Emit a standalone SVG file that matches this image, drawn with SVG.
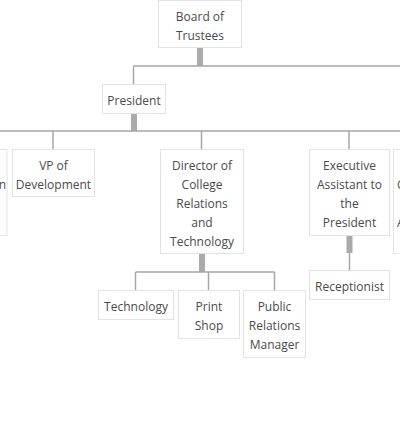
<svg xmlns="http://www.w3.org/2000/svg" width="400" height="442" viewBox="0 0 400 442">
<style>
.box{fill:#fff;stroke:#e3e3e3;stroke-width:1}
.t{font-family:"Open Sans","Noto Sans",sans-serif;font-size:12px;fill:#4a4a4a;text-anchor:middle}
.ln{stroke:#a6a6a6;stroke-width:1.5;fill:none}
.thick{fill:#aaa}
</style>
<rect width="400" height="442" fill="#fff"/>
<g id="connectors">
<rect class="thick" x="197" y="48" width="6" height="18"/>
<path class="ln" d="M133.5 66H400M133.5 66V84"/>
<rect class="thick" x="131" y="114" width="6" height="17"/>
<path class="ln" d="M0 131H400M53 131V149M201.5 131V149M349 131V149"/>
<rect class="thick" x="199" y="254" width="6" height="18"/>
<path class="ln" d="M135.5 272H274.5M135.5 272V290M208.5 272V290M274.5 272V290"/>
<rect class="thick" x="346.5" y="235" width="6" height="18"/>
<path class="ln" d="M349.5 253V270"/>
</g>
<g id="board">
<rect class="box" x="158.5" y="0.5" width="83" height="47"/>
<text class="t" x="200" y="21">Board of</text>
<text class="t" x="200" y="40">Trustees</text>
</g>
<g id="president">
<rect class="box" x="102.5" y="84.5" width="63" height="29"/>
<text class="t" x="134" y="105">President</text>
</g>
<g id="left-cut">
<rect class="box" x="-10" y="149.5" width="17" height="86"/>
<text class="t" x="6" y="189" style="text-anchor:end">n</text>
</g>
<g id="vp-dev">
<rect class="box" x="12.5" y="149.5" width="82" height="47"/>
<text class="t" x="53.5" y="170">VP of</text>
<text class="t" x="53.5" y="189">Development</text>
</g>
<g id="director">
<rect class="box" x="160.5" y="149.5" width="83" height="104"/>
<text class="t" x="202" y="170">Director of</text>
<text class="t" x="202" y="189">College</text>
<text class="t" x="202" y="208">Relations</text>
<text class="t" x="202" y="227">and</text>
<text class="t" x="202" y="246">Technology</text>
</g>
<g id="exec-assistant">
<rect class="box" x="309.5" y="149.5" width="80" height="86"/>
<text class="t" x="349.5" y="170">Executive</text>
<text class="t" x="349.5" y="189">Assistant to</text>
<text class="t" x="349.5" y="208">the</text>
<text class="t" x="349.5" y="227">President</text>
</g>
<g id="right-cut">
<rect class="box" x="393.5" y="149.5" width="20" height="104"/>
<text class="t" x="397" y="189" style="text-anchor:start">C</text>
<text class="t" x="397" y="227" style="text-anchor:start">A</text>
</g>
<g id="technology">
<rect class="box" x="98.5" y="290.5" width="75" height="29"/>
<text class="t" x="136" y="311">Technology</text>
</g>
<g id="print-shop">
<rect class="box" x="178.5" y="290.5" width="61" height="48"/>
<text class="t" x="209" y="311">Print</text>
<text class="t" x="209" y="330">Shop</text>
</g>
<g id="pr-manager">
<rect class="box" x="243.5" y="290.5" width="62" height="67"/>
<text class="t" x="274.5" y="311">Public</text>
<text class="t" x="274.5" y="330">Relations</text>
<text class="t" x="274.5" y="349">Manager</text>
</g>
<g id="receptionist">
<rect class="box" x="309.5" y="270.5" width="80" height="29"/>
<text class="t" x="349.5" y="291">Receptionist</text>
</g>
</svg>
